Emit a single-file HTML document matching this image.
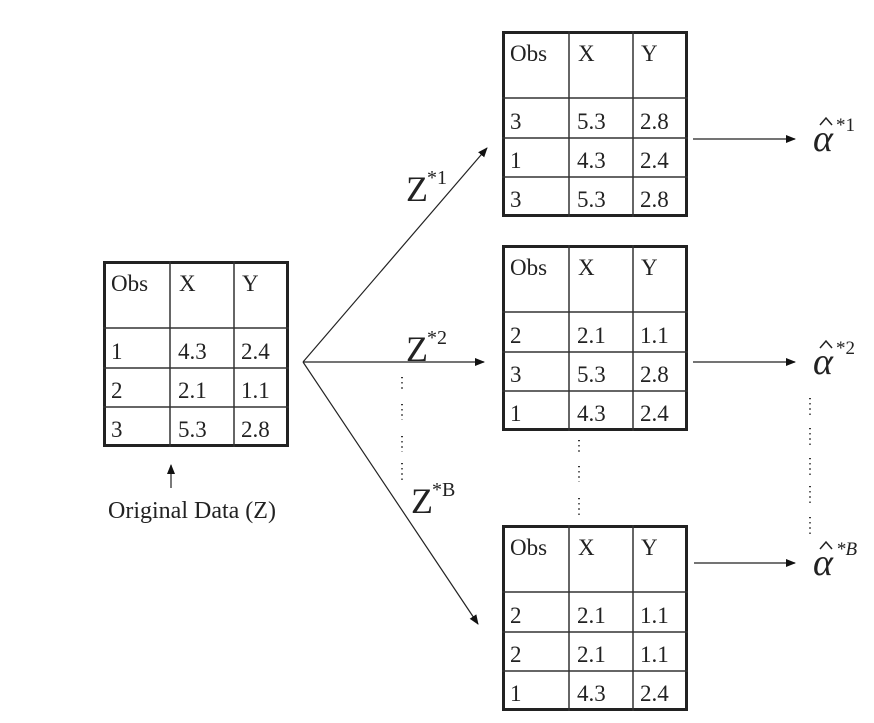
<!DOCTYPE html>
<html><head><style>
html,body{margin:0;padding:0;background:#fff;}
svg{display:block;}
text{font-family:"Liberation Serif",serif;fill:#222;}
</style></head><body>
<svg width="874" height="723" viewBox="0 0 874 723" xmlns="http://www.w3.org/2000/svg">
<defs>
<marker id="ah" markerWidth="10" markerHeight="8" refX="9" refY="4" orient="auto" markerUnits="userSpaceOnUse">
<path d="M0,0 L10,4 L0,8 z" fill="#111"/>
</marker>
<g id="grid">
<rect x="1.5" y="1.5" width="183" height="183" fill="#fff" stroke="#222" stroke-width="3"/>
<line x1="67" y1="0" x2="67" y2="186" stroke="#333" stroke-width="1.5"/>
<line x1="131" y1="0" x2="131" y2="186" stroke="#333" stroke-width="1.5"/>
<line x1="0" y1="67" x2="186" y2="67" stroke="#333" stroke-width="1.5"/>
<line x1="0" y1="107" x2="186" y2="107" stroke="#333" stroke-width="1.5"/>
<line x1="0" y1="146" x2="186" y2="146" stroke="#333" stroke-width="1.5"/>
</g>
</defs>

<g transform="translate(103,261)" font-size="23">
<use href="#grid"/>
<text x="8" y="30">Obs</text><text x="76" y="30">X</text><text x="139" y="30">Y</text>
<text x="8" y="98">1</text><text x="75" y="98">4.3</text><text x="138" y="98">2.4</text>
<text x="8" y="137">2</text><text x="75" y="137">2.1</text><text x="138" y="137">1.1</text>
<text x="8" y="176">3</text><text x="75" y="176">5.3</text><text x="138" y="176">2.8</text>
</g>

<g transform="translate(502,31)" font-size="23">
<use href="#grid"/>
<text x="8" y="30">Obs</text><text x="76" y="30">X</text><text x="139" y="30">Y</text>
<text x="8" y="98">3</text><text x="75" y="98">5.3</text><text x="138" y="98">2.8</text>
<text x="8" y="137">1</text><text x="75" y="137">4.3</text><text x="138" y="137">2.4</text>
<text x="8" y="176">3</text><text x="75" y="176">5.3</text><text x="138" y="176">2.8</text>
</g>

<g transform="translate(502,245)" font-size="23">
<use href="#grid"/>
<text x="8" y="30">Obs</text><text x="76" y="30">X</text><text x="139" y="30">Y</text>
<text x="8" y="98">2</text><text x="75" y="98">2.1</text><text x="138" y="98">1.1</text>
<text x="8" y="137">3</text><text x="75" y="137">5.3</text><text x="138" y="137">2.8</text>
<text x="8" y="176">1</text><text x="75" y="176">4.3</text><text x="138" y="176">2.4</text>
</g>

<g transform="translate(502,525)" font-size="23">
<use href="#grid"/>
<text x="8" y="30">Obs</text><text x="76" y="30">X</text><text x="139" y="30">Y</text>
<text x="8" y="98">2</text><text x="75" y="98">2.1</text><text x="138" y="98">1.1</text>
<text x="8" y="137">2</text><text x="75" y="137">2.1</text><text x="138" y="137">1.1</text>
<text x="8" y="176">1</text><text x="75" y="176">4.3</text><text x="138" y="176">2.4</text>
</g>

<g stroke="#222" stroke-width="1.2" fill="none">
<line x1="303" y1="362" x2="487" y2="148" marker-end="url(#ah)"/>
<line x1="303" y1="362" x2="484" y2="362" marker-end="url(#ah)"/>
<line x1="303" y1="362" x2="478" y2="624" marker-end="url(#ah)"/>
<line x1="693" y1="139" x2="795" y2="139" marker-end="url(#ah)"/>
<line x1="693" y1="362" x2="795" y2="362" marker-end="url(#ah)"/>
<line x1="694" y1="563" x2="795" y2="563" marker-end="url(#ah)"/>
<line x1="171" y1="488" x2="171" y2="465" marker-end="url(#ah)"/>
</g>

<g stroke="#333" stroke-width="2" stroke-dasharray="1.2,4" fill="none">
<line x1="402" y1="377" x2="402" y2="392"/>
<line x1="402" y1="404" x2="402" y2="420"/>
<line x1="402" y1="436" x2="402" y2="452"/>
<line x1="402" y1="463" x2="402" y2="481"/>
<line x1="579" y1="440" x2="579" y2="455"/>
<line x1="579" y1="466" x2="579" y2="482"/>
<line x1="579" y1="498" x2="579" y2="515"/>
<line x1="810" y1="398" x2="810" y2="417"/>
<line x1="810" y1="428" x2="810" y2="446"/>
<line x1="810" y1="458" x2="810" y2="476"/>
<line x1="810" y1="486" x2="810" y2="505"/>
<line x1="810" y1="517" x2="810" y2="535"/>
</g>

<g>
<text x="406" y="201" font-size="36">Z</text>
<text x="427" y="184" font-size="20">*1</text>
<text x="406" y="361" font-size="36">Z</text>
<text x="427" y="344" font-size="20">*2</text>
<text x="411" y="513" font-size="36">Z</text>
<text x="432" y="496" font-size="20">*B</text>
</g>

<g>
<text x="813" y="151" font-size="38" font-style="italic">α</text>
<path d="M820,125 L826,118 L832,125" stroke="#222" stroke-width="1.5" fill="none"/>
<text x="836" y="131" font-size="19">*1</text>
<text x="813" y="374" font-size="38" font-style="italic">α</text>
<path d="M820,348 L826,341 L832,348" stroke="#222" stroke-width="1.5" fill="none"/>
<text x="836" y="354" font-size="19">*2</text>
<text x="813" y="575" font-size="38" font-style="italic">α</text>
<path d="M820,549 L826,542 L832,549" stroke="#222" stroke-width="1.5" fill="none"/>
<text x="836" y="555" font-size="19" font-style="italic">*B</text>
</g>

<text x="108" y="518" font-size="24">Original Data (Z)</text>
</svg>
</body></html>
